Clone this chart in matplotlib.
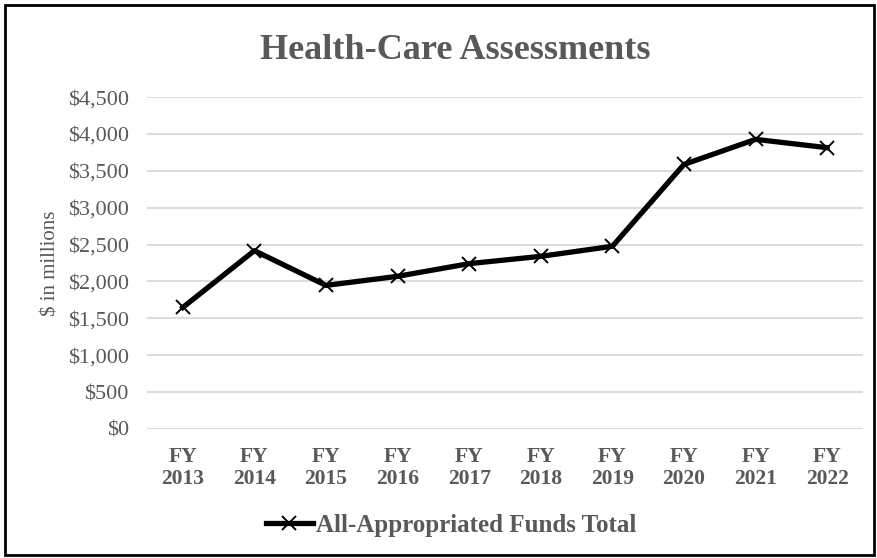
from matplotlib import pyplot as plt
from matplotlib.patches import Rectangle
from matplotlib.ticker import FuncFormatter

# Chart data ($ in millions)
years = ['FY\n2013', 'FY\n2014', 'FY\n2015', 'FY\n2016', 'FY\n2017',
         'FY\n2018', 'FY\n2019', 'FY\n2020', 'FY\n2021', 'FY\n2022']
totals = [1648, 2418, 1947, 2070, 2242, 2341, 2477, 3587, 3927, 3814]
y_ticks = [0, 500, 1000, 1500, 2000, 2500, 3000, 3500, 4000, 4500]

plt.rcParams['font.family'] = ['Liberation Serif', 'DejaVu Serif']
grey = '#595959'

fig = plt.figure(figsize=(8.77, 5.58), dpi=100)
ax = fig.add_axes([0.1676, 0.2312, 0.8164, 0.5948])

x = list(range(len(years)))
ax.plot(x, totals, color='black', linewidth=3.8, marker='x',
         markersize=10, markeredgewidth=1.4,
         label='All-Appropriated Funds Total')

ax.set_xlim(-0.5, len(years) - 0.5)
ax.set_ylim(0, 4500)
ax.set_yticks(y_ticks)
ax.yaxis.set_major_formatter(FuncFormatter(lambda v, p: f'${v:,.0f}'))
ax.set_xticks(x)
ax.set_xticklabels(years, fontweight='bold', fontsize=15.5, color=grey,
                   linespacing=1.1)
ax.tick_params(axis='y', labelsize=16, colors=grey, length=0, pad=13)
ax.tick_params(axis='x', length=0, pad=13)

ax.grid(axis='y', color='#d9d9d9', linewidth=1.3)
ax.set_axisbelow(True)
for s in ax.spines.values():
    s.set_visible(False)

ax.set_ylabel('$ in millions', fontsize=15, color=grey, labelpad=5)

fig.text(0.519, 0.909, 'Health-Care Assessments', ha='center', va='center',
         fontsize=26, fontweight='bold', color=grey)

fig.legend(loc='center', bbox_to_anchor=(0.514, 0.058), frameon=False,
           prop={'weight': 'bold', 'size': 18}, handlelength=1.9,
           handletextpad=0.1, labelcolor=grey)

# black border around the whole figure
fig.patches.append(Rectangle((5 / 877, 3 / 558), 869 / 877, 550 / 558,
                             transform=fig.transFigure, fill=False,
                             edgecolor='black', linewidth=2))

plt.savefig('out.png', dpi=100)
plt.close()
